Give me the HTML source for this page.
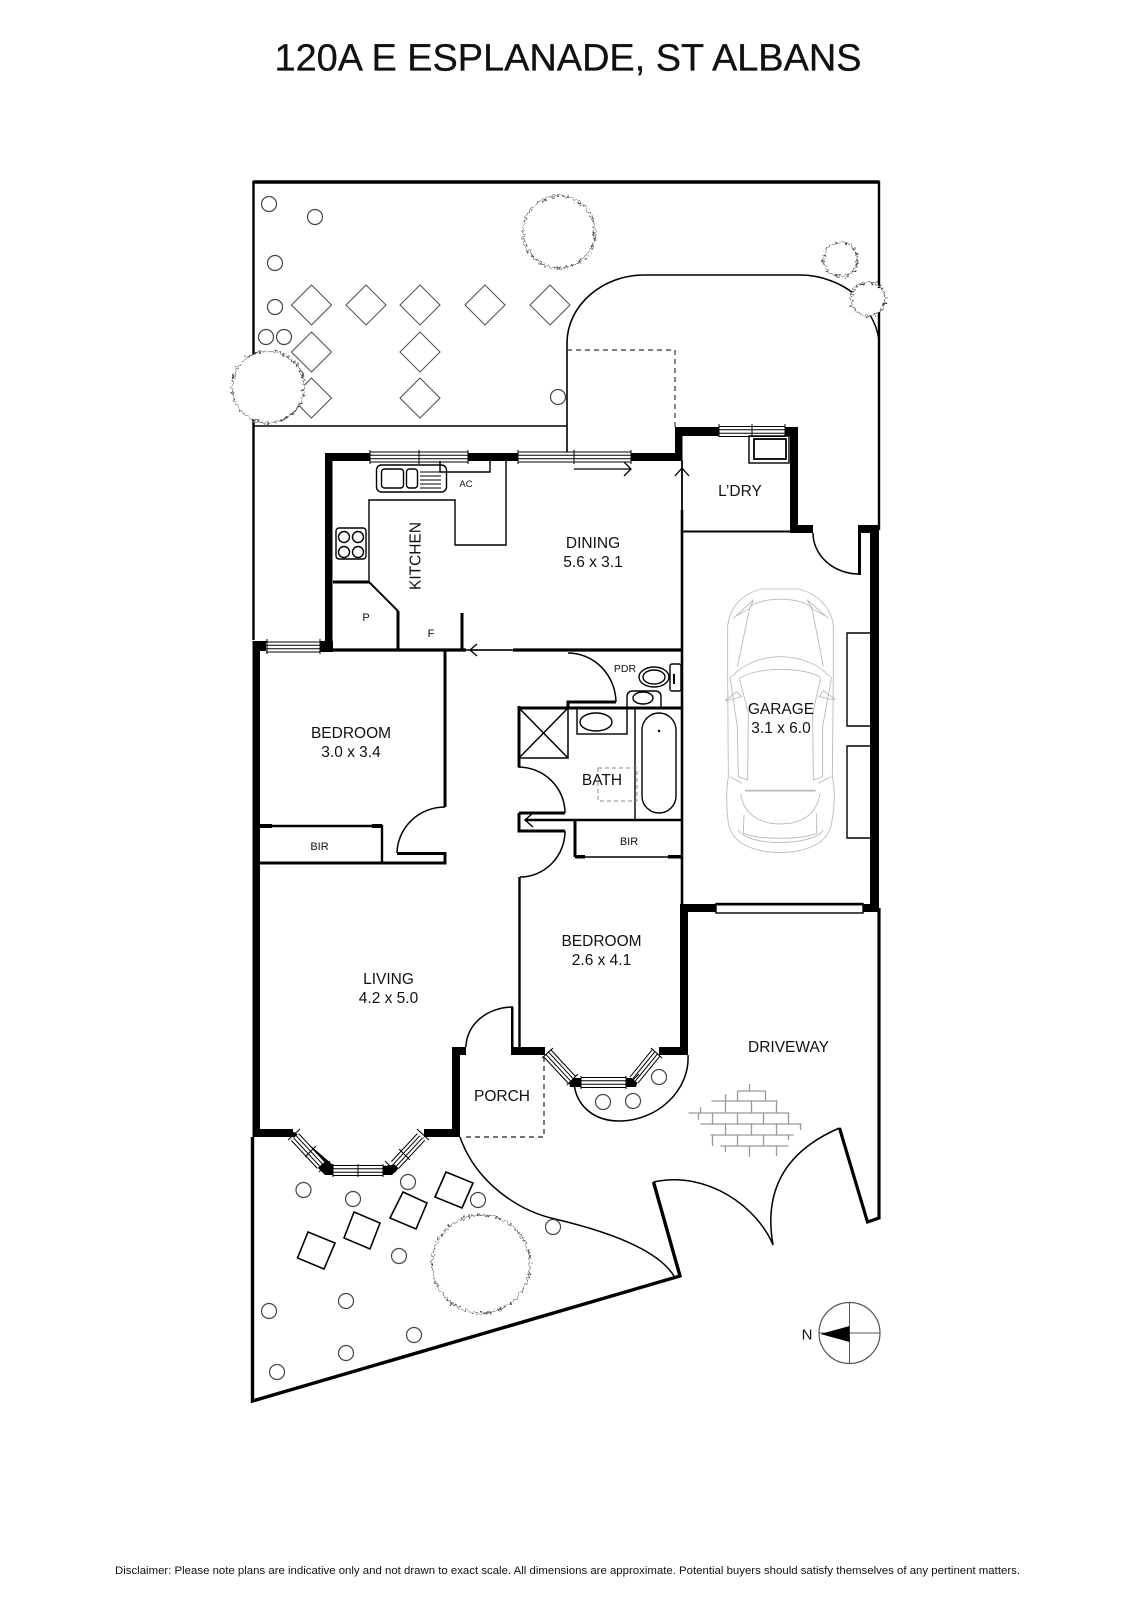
<!DOCTYPE html>
<html><head><meta charset="utf-8"><title>120A E Esplanade, St Albans</title>
<style>
html,body{margin:0;padding:0;background:#fff}
svg{display:block}
text{font-family:"Liberation Sans",sans-serif;fill:#111;text-anchor:middle}
.r{font-size:15.5px}
.s{font-size:11px}
.t{fill:none;stroke:#000;stroke-width:1.4}
.w{fill:none;stroke:#000;stroke-width:3}
.c{fill:#fff;stroke:#444;stroke-width:1.2}
.d{fill:#fff;stroke:#555;stroke-width:1.1}
.q{fill:#fff;stroke:#000;stroke-width:1.6}
.k{fill:#000;stroke:none}
.g{fill:none;stroke:#999;stroke-width:1.3}
.car path{fill:none;stroke:#b8b8b8;stroke-width:2.6}
.tr{fill:#fff;stroke:#444;stroke-width:1}
</style></head><body>
<svg xmlns="http://www.w3.org/2000/svg" width="1132" height="1600" viewBox="0 0 1132 1600">
<defs>
<filter id="wig" x="-20%" y="-20%" width="140%" height="140%" color-interpolation-filters="sRGB">
<feTurbulence type="fractalNoise" baseFrequency="0.38" numOctaves="1" seed="4"/>
<feDisplacementMap in="SourceGraphic" scale="9" xChannelSelector="R" yChannelSelector="G"/>
</filter>
</defs>
<rect width="1132" height="1600" fill="#fff"/>
<text x="568" y="70.5" font-size="38" textLength="587" lengthAdjust="spacingAndGlyphs" stroke="#111" stroke-width=".3">120A E ESPLANADE, ST ALBANS</text>
<text x="567.5" y="1574" font-size="11" textLength="905" lengthAdjust="spacingAndGlyphs">Disclaimer: Please note plans are indicative only and not drawn to exact scale. All dimensions are approximate. Potential buyers should satisfy themselves of any pertinent matters.</text>

<!-- boundary -->
<path d="M253.5,640 L253.5,182 L879,182 L879,530" fill="none" stroke="#000" stroke-width="2.4"/>
<path d="M253.5,182 L879,182" stroke="#000" stroke-width="3.4"/>
<path d="M253.5,426 L567,426" class="t"/>
<!-- pavement -->
<path d="M567,458 L567,343 C567,305 603,275 644,275 L801,275 C823,275 843,285 853,293" class="t" style="stroke-width:1.6"/>
<path d="M870,315 C876,325 879,335 879,345" class="t"/>
<path d="M567,350 L675,350 L675,427" fill="none" stroke="#333" stroke-width="1.2" stroke-dasharray="5 4"/>
<!-- diamonds -->
<g class="d">
<path d="M311.5,285l20,20l-20,20l-20,-20z"/><path d="M366,285l20,20l-20,20l-20,-20z"/><path d="M420,285l20,20l-20,20l-20,-20z"/><path d="M485,285l20,20l-20,20l-20,-20z"/><path d="M550,285l20,20l-20,20l-20,-20z"/>
<path d="M311.5,332l20,20l-20,20l-20,-20z"/><path d="M420,332l20,20l-20,20l-20,-20z"/>
<path d="M311.5,378l20,20l-20,20l-20,-20z"/><path d="M420,378l20,20l-20,20l-20,-20z"/>
</g>
<!-- shrubs top -->
<g class="c">
<circle cx="269" cy="204" r="7.5"/><circle cx="315" cy="217" r="7.5"/><circle cx="275" cy="263" r="7.5"/><circle cx="275" cy="307" r="7.5"/><circle cx="266" cy="337" r="7.5"/><circle cx="284" cy="337" r="7.5"/><circle cx="558" cy="397" r="7.5"/>
</g>
<g filter="url(#wig)" class="tr">
<circle cx="559" cy="232" r="36"/><circle cx="268" cy="387" r="36"/><circle cx="840.5" cy="259.5" r="17"/><circle cx="868" cy="299" r="17"/>
<circle cx="481" cy="1264" r="49"/>
</g>

<!-- solid walls -->
<g class="k">
<rect x="325" y="453" width="45" height="8"/>
<rect x="325" y="453" width="7.5" height="198"/>
<rect x="468" y="453" width="50" height="8"/>
<rect x="631" y="453" width="51" height="8"/>
<rect x="675" y="427" width="7.5" height="34"/>
<rect x="675" y="427" width="44" height="9"/>
<rect x="785" y="427" width="13" height="9"/>
<rect x="790" y="427" width="8" height="106"/>
<rect x="790" y="525" width="23" height="8"/>
<rect x="858" y="525" width="21" height="8"/>
<rect x="858" y="525" width="3" height="50"/>
<rect x="870" y="525" width="9" height="387"/>
<rect x="682" y="904" width="34" height="8"/>
<rect x="863" y="904" width="16" height="8"/>
<rect x="680" y="904" width="8" height="151"/>
<rect x="659" y="1047" width="29" height="8"/>
<rect x="511" y="1047" width="34" height="8"/>
<rect x="252.5" y="649" width="7.5" height="488"/>
<rect x="252.5" y="641" width="14" height="10"/>
<rect x="320" y="641" width="13" height="11"/>
<rect x="253" y="1129" width="40" height="8"/>
<rect x="424" y="1129" width="36" height="8"/>
<rect x="452" y="1047" width="8" height="90"/>
<rect x="452" y="1047" width="14" height="8"/>
<rect x="511" y="1007" width="2.5" height="48"/>
<path d="M287,1129 L296,1133 L333,1165 L333,1175 L325,1175 L316,1166 Z"/>
<path d="M431,1129 L424,1137 L392,1165 L383,1166 L383,1175 L392,1175 L401,1166 Z"/>
<path d="M568,1078 L581,1078 L581,1087 L570,1087 Z"/>
<path d="M626,1078 L639,1078 L636,1087 L626,1087 Z"/>
</g>
<path d="M252.5,1137 L252.5,1401 L680,1276 L653.5,1182" fill="none" stroke="#000" stroke-width="3.4" stroke-linejoin="miter"/>
<path d="M879,908 L879,1218 L867.5,1222 L839.5,1128" fill="none" stroke="#000" stroke-width="3.2"/>

<!-- thin/medium walls -->
<path d="M333,650 L466,650 M513,650 L682,650" fill="none" stroke="#000" stroke-width="3.2"/>
<path d="M466,650 L513,650" class="t"/>
<path d="M445,650 L445,807 M397,853.5 L445,853.5 L445,863 L258,863" class="w"/>
<path d="M260,826 L382,826 L382,863" class="w" style="stroke-width:2.4"/>
<rect x="260" y="824" width="12" height="4" class="k"/><rect x="372" y="824" width="10" height="4" class="k"/>
<path d="M682,460 L682,650" class="t" style="stroke-width:1.8"/>
<path d="M682,510 L682,905" class="w" style="stroke-width:2.6"/>
<path d="M682,531.5 L790,531.5" class="w" style="stroke-width:2"/>
<!-- bath block -->
<path d="M616,702 L568,702 L568,708" class="w"/>
<path d="M518,708 L682,708" class="w"/>
<path d="M519,706 L519,767" class="w"/>
<path d="M568,706 L568,758 L519,758 M519,708 L568,758 M568,708 L519,758" fill="none" stroke="#000" stroke-width="1.5"/>
<path d="M519,813 L565,813 M519,813 L519,831 L565,831" class="w"/>
<path d="M525,820 L682,820" class="w" style="stroke-width:2.4"/>
<path d="M519.5,877 L519.5,1050" class="w" style="stroke-width:2.4"/>
<path d="M575,820 L575,857" class="w"/>
<path d="M575,857 L682,857" class="t" style="stroke-width:1.6"/>
<rect x="575" y="855" width="10" height="3.5" class="k"/><rect x="668" y="855" width="13" height="3.5" class="k"/>
<path d="M635,708 L635,820" class="t"/>
<!-- doors -->
<g class="t" style="stroke-width:1.5">
<path d="M568,653 A48,50 0 0 1 616,702"/>
<path d="M445,807 A48,47 0 0 0 397,853"/>
<path d="M518,767 A47,46 0 0 1 565,813"/>
<path d="M565,831 A45,46 0 0 1 520,877"/>
<path d="M813,533 A46,41 0 0 0 859,574"/>
<path d="M466,1047 A47,40 0 0 1 513,1007"/>
<path d="M688,1055 C690,1090 658,1121 619,1121 C593,1121 576,1105 574,1083"/>
<path d="M460,1137 C475,1180 515,1210 555,1219 C610,1232 658,1250 674,1276"/>
<path d="M653.5,1182 C708,1170 758,1208 773,1245"/>
<path d="M773,1245 C763,1188 788,1150 839.5,1128"/>
</g>
<!-- windows -->
<g fill="none">
<g stroke="#000" stroke-width="11"><path d="M370,457 L468,457 M518,457 L631,457 M719,431.5 L785,431.5 M266,647 L320,647 M581,1082.5 L626,1082.5 M333,1170.5 L383,1170.5 M295,1137 L321,1165 M421,1137 L395,1165 M547,1053 L572,1080 M656,1053 L634,1080"/></g>
<g stroke="#fff" stroke-width="9"><path d="M370,457 L468,457 M518,457 L631,457 M719,431.5 L785,431.5 M266,647 L320,647 M581,1082.5 L626,1082.5 M333,1170.5 L383,1170.5 M295,1137 L321,1165 M421,1137 L395,1165 M547,1053 L572,1080 M656,1053 L634,1080"/></g>
<g stroke="#000" stroke-width="4.4"><path d="M370,457 L468,457 M518,457 L631,457 M719,431.5 L785,431.5 M266,647 L320,647 M581,1082.5 L626,1082.5 M333,1170.5 L383,1170.5 M295,1137 L321,1165 M421,1137 L395,1165 M547,1053 L572,1080 M656,1053 L634,1080"/></g>
<g stroke="#fff" stroke-width="2.4"><path d="M370,457 L468,457 M518,457 L631,457 M719,431.5 L785,431.5 M266,647 L320,647 M581,1082.5 L626,1082.5 M333,1170.5 L383,1170.5 M295,1137 L321,1165 M421,1137 L395,1165 M547,1053 L572,1080 M656,1053 L634,1080"/></g>
<g stroke="#000" stroke-width="1"><path d="M370,450 V464 M419,450 V464 M468,450 V464 M518,450 V464 M574,450 V464 M631,450 V464 M719,424 V437 M752,424 V437 M785,424 V437 M267,639 V654 M320,639 V654 M358,1164 V1177 M333,1164 V1177 M383,1164 V1177 M581,1076 V1089 M626,1076 V1089 M288,1140 L300,1129 M305,1157 L316,1146 M319,1172 L330,1161 M429,1140 L417,1129 M410,1160 L399,1149 M396,1172 L385,1161 M542,1058 L553,1048 M567,1085 L578,1074 M662,1058 L651,1048 M628,1085 L639,1074"/></g>
</g>
<!-- garage door -->
<rect x="716" y="903.5" width="147" height="9.5" fill="#fff" stroke="#000" stroke-width="1.4"/>
<path d="M716,904.5 L863,904.5" stroke="#000" stroke-width="2"/>
<!-- arrows -->
<g class="t" style="stroke-width:1.3">
<path d="M574,469 L631,469 M624,462 L631,469 L624,476"/>
<path d="M675,476 L682,468 L689,476"/>
<path d="M470,650 L512,650 M477,644 L470,650 L477,656"/>
<path d="M533,813 L525,820 L533,827" style="stroke-width:1.4"/>
</g>
<!-- kitchen fittings -->
<g fill="none" stroke="#000" stroke-width="1.4">
<path d="M506,461 L506,545 L455,545 L455,500 L369,500 L369,582"/>
<rect x="376.5" y="465" width="70" height="27" rx="5" fill="#fff"/>
<rect x="381.5" y="469" width="22" height="19" rx="3"/>
<rect x="406.5" y="469" width="11" height="19" rx="3"/>
<path d="M420,472 H441 M420,476 H441 M420,480 H441 M420,484 H441 M420,488 H441" stroke-width="1"/>
<path d="M440,461 L440,472 L490,472 L490,461"/>
<rect x="336" y="528" width="30" height="31" rx="3"/>
<circle cx="344" cy="537" r="5.5"/><circle cx="358" cy="537" r="5.5"/><circle cx="344" cy="552" r="5.5"/><circle cx="358" cy="552" r="5.5"/>
<rect x="749" y="436" width="40" height="27"/>
<rect x="754" y="439" width="32" height="20" stroke-width="1.8"/>
</g>
<path d="M333,582 L369,582" class="w"/>
<path d="M369,582 L398,611" class="w" style="stroke-width:2"/>
<path d="M398,611 L398,650" class="w"/>
<path d="M462,613 L462,650" class="w"/>
<!-- bathroom fittings -->
<g fill="#fff" stroke="#000" stroke-width="1.4">
<rect x="577" y="708" width="50" height="26" fill="none"/>
<ellipse cx="596" cy="722" rx="16" ry="9"/>
<path d="M627,708 L627,697 Q627,691 633,691 L655,691 Q661,691 661,697 L661,708" fill="none"/>
<ellipse cx="643" cy="698" rx="10" ry="6"/>
<rect x="670" y="664" width="11" height="27" rx="2"/>
<ellipse cx="654" cy="677" rx="15" ry="10"/>
<ellipse cx="654" cy="677" rx="11" ry="7"/>
<path d="M674,674 V684" stroke-width="2"/>
<rect x="642" y="713" width="34" height="100" rx="17" fill="none"/>
</g>
<circle cx="659" cy="731" r="1.2" fill="#000"/>
<rect x="598" y="768" width="39" height="33" fill="none" stroke="#888" stroke-width="1" stroke-dasharray="4 3"/>
<!-- garage shelves -->
<path d="M871,633 H847 V726 H871 M871,746 H847 V838 H871" fill="none" stroke="#000" stroke-width="1.4"/>
<!-- car -->
<g class="car" transform="translate(700 570) scale(.3333)">
<path d="M185,57 L295,57 C350,70 395,110 400,170 L400,320 L397,620 C405,660 405,700 395,760 C385,810 340,845 241,848 C140,845 95,810 85,760 C78,700 78,660 85,620 L83,320 L83,170 C88,110 130,70 185,57 Z"/>
<path d="M95,320 C170,240 315,240 390,320"/>
<path d="M120,325 C170,290 310,290 362,322"/>
<path d="M112,290 L150,110 C190,80 290,80 335,110 L370,290"/>
<path d="M100,145 L160,90 L150,115 L105,140 Z"/><path d="M385,145 L322,90 L335,115 L380,140 Z"/>
<path d="M118,325 L145,430 L143,630 L115,620 L112,470 L90,320"/>
<path d="M362,325 L338,430 L340,630 L368,620 L368,470 L395,320"/>
<path d="M75,392 L110,365 L125,380 L85,390Z"/><path d="M405,388 L370,362 L358,380 L395,388Z"/>
<path d="M135,662 L347,662" style="stroke-width:5"/>
<path d="M122,670 C130,740 190,762 241,762 C295,762 350,740 360,670"/>
<path d="M132,735 L130,790 C180,810 300,810 350,790 L350,730"/>
<path d="M115,780 C140,830 340,830 370,780"/>
<path d="M90,620 L125,640 M393,620 L355,640"/>
</g>
<!-- brick -->
<g class="g" transform="translate(-1.5 0)">
<path d="M739,1091 H767 M713,1101 H779 M690,1113 H791 M702,1124 H803 M712,1135 H795 M722,1146 H790"/>
<path d="M751,1084 V1091 M739,1091 V1101 M767,1091 V1101 M727,1094 V1101 M753,1101 V1113 M727,1101 V1113 M778,1101 V1113 M714,1113 V1124 M739,1113 V1124 M765,1113 V1124 M790,1113 V1124 M727,1124 V1135 M753,1124 V1135 M778,1124 V1135 M802,1124 V1130 M714,1135 V1146 M739,1135 V1146 M765,1135 V1146 M790,1135 V1140 M727,1146 V1152 M751,1146 V1157 M778,1146 V1156 M702,1107 V1113 M700,1113 V1120"/>
</g>
<!-- porch dash -->
<path d="M544,1057 L544,1137 L464,1137" fill="none" stroke="#222" stroke-width="1.2" stroke-dasharray="5 4"/>
<!-- front shrubs -->
<g class="c">
<circle cx="659" cy="1077" r="7.5"/><circle cx="603" cy="1102" r="7.5"/><circle cx="633" cy="1101" r="7.5"/>
<circle cx="303.5" cy="1190" r="7.5"/><circle cx="353" cy="1199" r="7.5"/><circle cx="408" cy="1182" r="7.5"/><circle cx="478" cy="1200" r="7.5"/><circle cx="553" cy="1227" r="7.5"/><circle cx="399" cy="1256" r="7.5"/><circle cx="346" cy="1301" r="7.5"/><circle cx="269" cy="1311" r="7.5"/><circle cx="414" cy="1335" r="7.5"/><circle cx="346" cy="1353" r="7.5"/><circle cx="277" cy="1372" r="7.5"/>
</g>
<g class="q">
<path d="M446,1172 L473,1183 L462,1208 L435,1197 Z"/>
<path d="M403,1192 L427,1203 L416,1229 L390,1218 Z"/>
<path d="M354,1212 L380,1223 L370,1249 L344,1238 Z"/>
<path d="M308,1232 L335,1243 L324,1269 L297.5,1258 Z"/>
</g>
<!-- compass -->
<circle cx="849.5" cy="1336" r="30.5" fill="#fff" stroke="#555" stroke-width="1.2" transform="translate(0 -3)"/>
<path d="M849.5,1302 V1364 M819,1333 H880" stroke="#555" stroke-width="1"/>
<path d="M820.5,1334 L849.5,1326 L849.5,1342 Z" fill="#000"/>
<text x="807" y="1339.5" font-size="15">N</text>
<!-- labels -->
<text class="r" x="593" y="548">DINING</text>
<text class="r" x="593" y="567">5.6 x 3.1</text>
<text class="r" x="740" y="496">L’DRY</text>
<text class="r" transform="translate(420.5 556) rotate(-90)" style="font-size:15.5px">KITCHEN</text>
<text class="s" x="466" y="487" style="font-size:9.5px">AC</text>
<text class="s" x="366" y="621">P</text>
<text class="s" x="431" y="637">F</text>
<text class="s" x="625" y="672" style="font-size:10.5px">PDR</text>
<text class="r" x="351" y="738">BEDROOM</text>
<text class="r" x="351" y="757">3.0 x 3.4</text>
<text class="s" x="319.5" y="850">BIR</text>
<text class="s" x="629" y="845">BIR</text>
<text class="r" x="602" y="785">BATH</text>
<text class="r" x="781" y="714">GARAGE</text>
<text class="r" x="781" y="733">3.1 x 6.0</text>
<text class="r" x="601.5" y="946">BEDROOM</text>
<text class="r" x="601.5" y="965">2.6 x 4.1</text>
<text class="r" x="388.5" y="984">LIVING</text>
<text class="r" x="388.5" y="1003">4.2 x 5.0</text>
<text class="r" x="788.5" y="1052">DRIVEWAY</text>
<text class="r" x="502" y="1101">PORCH</text>
</svg>
</body></html>
